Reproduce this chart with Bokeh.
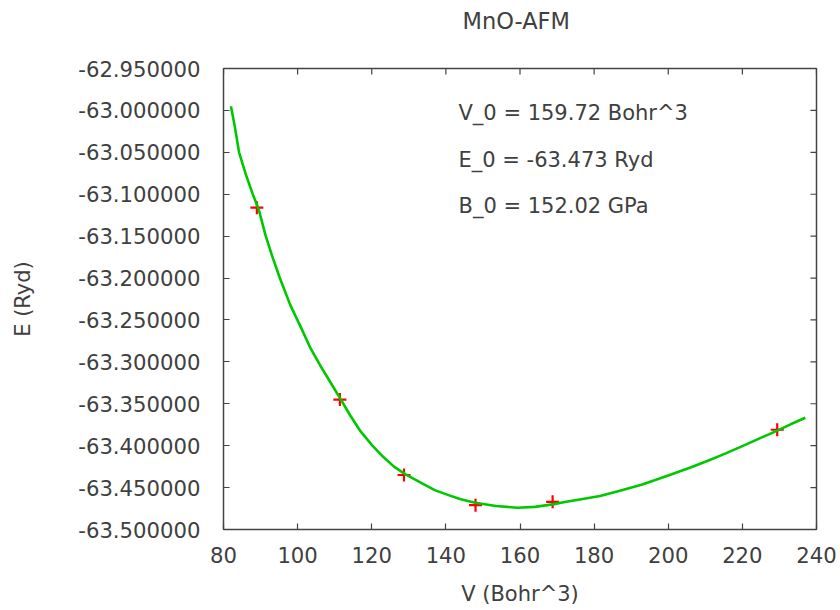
import math
from bokeh.plotting import figure
from bokeh.models import (ColumnDataSource, FixedTicker, PrintfTickFormatter, Label, Range1d)
from bokeh.embed import file_html
from bokeh.resources import INLINE

# ---- data ----
volume_points = [89.0, 111.4, 128.7, 148.0, 168.8, 229.4]
energy_points = [-63.116, -63.345, -63.435, -63.471, -63.467, -63.381]

fit_volume = [82.0, 83.0, 84.2, 86.0, 87.9, 89.5, 91.4, 93.3, 95.2, 98.0, 100.8, 103.5,
              106.2, 108.8, 111.4, 114.2, 117.0, 120.0, 123.0, 126.0, 129.0, 133.6,
              137.0, 140.7, 144.0, 147.9, 153.5, 159.3, 164.0, 168.8, 172.5, 176.5,
              181.6, 187.2, 193.0, 200.0, 206.0, 211.2, 215.5, 220.0, 224.8, 229.4,
              233.0, 237.0]
fit_energy = [-62.995, -63.018, -63.050, -63.076, -63.100, -63.118, -63.150, -63.176,
              -63.200, -63.232, -63.258, -63.284, -63.305, -63.324, -63.343, -63.364,
              -63.383, -63.399, -63.413, -63.425, -63.434, -63.445, -63.453, -63.459,
              -63.464, -63.468, -63.472, -63.474, -63.473, -63.470, -63.467, -63.464,
              -63.460, -63.4535, -63.4462, -63.4355, -63.4260, -63.4170, -63.4092,
              -63.4005, -63.3910, -63.3820, -63.3745, -63.3667]

x_ticks = [80, 100, 120, 140, 160, 180, 200, 220, 240]
y_ticks = [-63.5, -63.45, -63.4, -63.35, -63.3, -63.25, -63.2, -63.15, -63.1, -63.05,
           -63.0, -62.95]

title_text = "MnO-AFM"
info_lines = ["V_0 = 159.72 Bohr^3", "E_0 = -63.473 Ryd", "B_0 = 152.02 GPa"]

# ---- style ----
FONT = "DejaVu Sans"
TXT = "#404040"
FS = "21.2px"
X0, X1 = 80, 240
Y0, Y1 = -63.5, -62.95

p = figure(width=840, height=610, output_backend="svg", toolbar_location=None,
           x_range=Range1d(X0, X1), y_range=Range1d(Y0, Y1),
           min_border_left=223, min_border_right=24, min_border_top=68,
           min_border_bottom=81)
p.title.text = title_text
p.title.align = "left"
p.title.offset = 239
p.title.vertical_align = "top"
p.title.standoff = 0
p.title.padding = dict(top=0, right=0, bottom=33, left=0)
p.title.text_font = FONT
p.title.text_font_size = "22.5px"
p.title.text_font_style = "normal"
p.title.text_color = TXT

p.grid.visible = False
p.outline_line_color = "#444444"
p.outline_line_width = 1.5
p.background_fill_color = "white"
p.border_fill_color = "white"

def style_axis(ax, ticks):
    ax.ticker = FixedTicker(ticks=ticks)
    ax.axis_line_color = None
    ax.major_tick_in = 6
    ax.major_tick_out = 0
    ax.major_tick_line_color = "#444444"
    ax.major_tick_line_width = 1.2
    ax.minor_tick_line_color = None
    ax.major_label_text_font = FONT
    ax.major_label_text_color = TXT
    ax.major_label_text_font_size = FS
    ax.axis_label_text_font = FONT
    ax.axis_label_text_color = TXT
    ax.axis_label_text_font_style = "normal"
    ax.axis_label_text_font_size = "21px"

xa = p.xaxis[0]
style_axis(xa, x_ticks)
xa.axis_label = "V (Bohr^3)"
xa.major_label_standoff = 17
xa.axis_label_standoff = 16

ya = p.yaxis[0]
style_axis(ya, y_ticks)
ya.axis_label = "E (Ryd)"
ya.formatter = PrintfTickFormatter(format="%.6f")
ya.major_label_standoff = 23
ya.axis_label_standoff = 40

# mirrored tick marks on the top and right border (clipped to the frame)
top_src = ColumnDataSource(dict(x=x_ticks, y=[Y1] * len(x_ticks)))
right_src = ColumnDataSource(dict(x=[X1] * len(y_ticks), y=y_ticks))
p.scatter("x", "y", source=top_src, marker="dash", angle=math.pi / 2, size=12,
          line_color="#444444", line_width=1.2)
p.scatter("x", "y", source=right_src, marker="dash", size=12,
          line_color="#444444", line_width=1.2)

pts = ColumnDataSource(dict(v=volume_points, e=energy_points))
fit = ColumnDataSource(dict(v=fit_volume, e=fit_energy))

p.scatter("v", "e", source=pts, marker="cross", size=13, line_color="#ff0000",
          line_width=2.2)
p.line("v", "e", source=fit, line_color="#00c800", line_width=2.6, line_join="round")

label_y = [-63.0036, -63.0591, -63.1146]
for txt, yy in zip(info_lines, label_y):
    p.add_layout(Label(x=143.4, y=yy, text=txt, text_font=FONT, text_font_size="21px",
                       text_color=TXT, text_baseline="alphabetic", text_align="left"))

open("out.html", "w").write(file_html(p, INLINE))
